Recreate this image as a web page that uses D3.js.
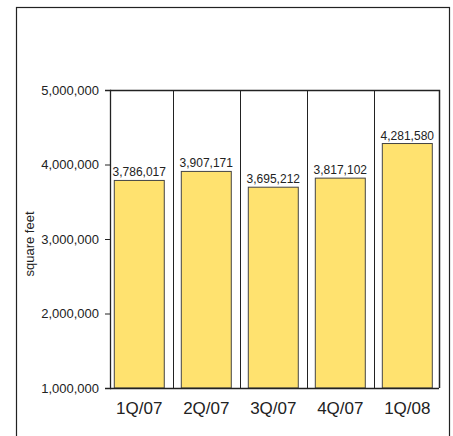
<!DOCTYPE html>
<html>
<head>
<meta charset="utf-8">
<script src="https://cdn.jsdelivr.net/npm/d3@7"></script>
<style>
  body { margin: 0; background: #fff; }
  text { font-family: "Liberation Sans", Arial, sans-serif; fill: #222; }
</style>
</head>
<body>
<div id="chart"></div>
<script>
// chart data
var quarters = ["1Q/07", "2Q/07", "3Q/07", "4Q/07", "1Q/08"];
var sqft = [3786017, 3907171, 3695212, 3817102, 4281580];
var yTicks = [1000000, 2000000, 3000000, 4000000, 5000000];

var W = 453, H = 436;
var margin = {top: 90, right: 14, bottom: 48, left: 110},
    width = W - margin.left - margin.right,
    height = H - margin.top - margin.bottom;

const svg = d3.select("#chart")
  .append("svg")
    .attr("width", W)
    .attr("height", H);

// outer frame (runs off the bottom)
svg.append("rect")
  .attr("x", 16.5)
  .attr("y", 7.5)
  .attr("width", 433)
  .attr("height", 450)
  .attr("fill", "none")
  .attr("stroke", "#222")
  .attr("stroke-width", 1.2);

const g = svg.append("g")
  .attr("transform", `translate(${margin.left}, ${margin.top})`);

var pin = 0.254;
var x = d3.scaleBand()
  .domain(quarters)
  .range([0, width])
  .paddingInner(pin)
  .paddingOuter(0.082)
  .align(0.39);

var y = d3.scaleLinear()
  .domain([1000000, 5000000])
  .range([height, 0]);

// bars
g.selectAll(".bar")
  .data(quarters)
  .enter()
  .append("rect")
    .attr("class", "bar")
    .attr("x", d => x(d))
    .attr("y", (d, i) => y(sqft[i]))
    .attr("width", x.bandwidth())
    .attr("height", (d, i) => y(1000000) - y(sqft[i]))
    .attr("fill", "#ffe26f")
    .attr("stroke", "#444")
    .attr("stroke-width", 1);

// value labels
g.selectAll(".val")
  .data(quarters)
  .enter()
  .append("text")
    .attr("x", d => x(d) + x.bandwidth() / 2)
    .attr("y", (d, i) => y(sqft[i]) - 4)
    .attr("text-anchor", "middle")
    .attr("font-size", "12px")
    .text((d, i) => d3.format(",")(sqft[i]));

// dividers between quarters
var step = x.step();
g.selectAll(".div")
  .data(quarters.slice(1))
  .enter()
  .append("line")
    .attr("x1", d => Math.round(x(d) - step * pin / 2) + 0.5)
    .attr("x2", d => Math.round(x(d) - step * pin / 2) + 0.5)
    .attr("y1", 0)
    .attr("y2", height)
    .attr("stroke", "#222");

// top and right border of plot
g.append("path")
  .attr("d", `M0,0.5H${width + 0.5}V${height}`)
  .attr("fill", "none")
  .attr("stroke", "#222")
  .attr("stroke-width", 1.5);

// y axis
var yAxisG = g.append("g")
  .call(d3.axisLeft(y)
    .tickValues(yTicks)
    .tickSize(5)
    .tickPadding(6)
    .tickFormat(d3.format(",")));
yAxisG.select(".domain").attr("stroke", "#222").attr("stroke-width", 1.3);
yAxisG.selectAll(".tick line").attr("stroke", "#222")
  .filter(d => d === 1000000).remove();
yAxisG.selectAll(".tick text")
  .attr("font-size", "13px")
  .attr("font-family", "Liberation Sans, Arial, sans-serif")
  .attr("fill", "#222");

// x baseline + category labels
g.append("line")
  .attr("x1", 0).attr("x2", width)
  .attr("y1", height + 0.5).attr("y2", height + 0.5)
  .attr("stroke", "#222")
  .attr("stroke-width", 1.5);

g.selectAll(".cat")
  .data(quarters)
  .enter()
  .append("text")
    .attr("x", d => x(d) + x.bandwidth() / 2)
    .attr("y", height + 26)
    .attr("text-anchor", "middle")
    .attr("font-size", "17px")
    .text(d => d);

// y label
svg.append("text")
  .attr("transform", `translate(34, ${margin.top + height / 2 + 5}) rotate(-90)`)
  .attr("text-anchor", "middle")
  .attr("font-size", "13px")
  .text("square feet");
</script>
</body>
</html>
